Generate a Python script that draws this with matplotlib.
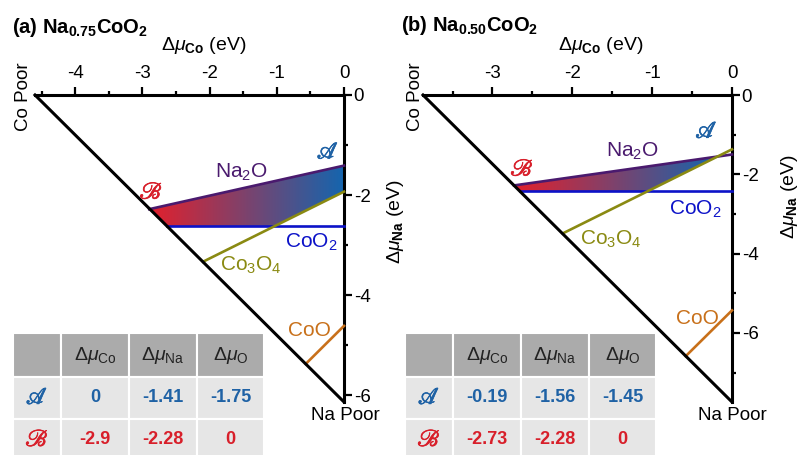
import numpy as np
import matplotlib
matplotlib.use('Agg')
import matplotlib.pyplot as plt
import matplotlib.patheffects as pe
from matplotlib.patches import Polygon, Rectangle
from matplotlib.colors import LinearSegmentedColormap
from matplotlib.ticker import MultipleLocator

plt.rcParams['font.family'] = ['Liberation Sans', 'DejaVu Sans']
plt.rcParams['mathtext.fontset'] = 'custom'
plt.rcParams['mathtext.rm'] = 'Liberation Sans'
plt.rcParams['mathtext.it'] = 'Liberation Sans:italic'
plt.rcParams['mathtext.bf'] = 'Liberation Sans:bold'
plt.rcParams['axes.unicode_minus'] = False

# ---- panel (a) Na0.75CoO2 : (mu_Co, mu_Na) values in eV
a_co_poor = -4.60
a_na_poor = -6.13
a_na2o_co, a_na2o_na = [-2.90, 0.0], [-2.28, -1.41]
a_coo2_co, a_coo2_na = [-2.635, 0.0], [-2.62, -2.62]
a_co3o4_co, a_co3o4_na = [-2.10, 0.0], [-3.33, -1.93]
a_coo_co, a_coo_na = [-0.57, 0.0], [-5.37, -4.61]
a_region_co = [-2.90, 0.0, 0.0, -1.035, -2.635]
a_region_na = [-2.28, -1.41, -1.93, -2.62, -2.62]

# ---- panel (b) Na0.50CoO2
b_co_poor = -3.87
b_na_poor = -7.74
b_na2o_co, b_na2o_na = [-2.73, 0.0], [-2.28, -1.50]
b_coo2_co, b_coo2_na = [-2.655, 0.0], [-2.43, -2.43]
b_co3o4_co, b_co3o4_na = [-2.12, 0.0], [-3.49, -1.37]
b_coo_co, b_coo_na = [-0.58, 0.0], [-6.585, -5.43]
b_region_co = [-2.73, -0.19, -1.06, -2.655]
b_region_na = [-2.28, -1.56, -2.43, -2.43]

# ---- tables
headers = [r'$\Delta\mu_{\mathrm{Co}}$', r'$\Delta\mu_{\mathrm{Na}}$', r'$\Delta\mu_{\mathrm{O}}$']
a_point_A = [0.0, -1.41, -1.75]
a_point_B = [-2.9, -2.28, 0.0]
b_point_A = [-0.19, -1.56, -1.45]
b_point_B = [-2.73, -2.28, 0.0]

c_na2o = '#4a1a6e'
c_coo2 = '#0c12c8'
c_co3o4 = '#8a8a12'
c_coo = '#c8701a'
c_A = '#1f62a5'
c_B = '#d81f2a'
grad = LinearSegmentedColormap.from_list('rb', ['#e3202c', '#1565ae'])

fig = plt.figure(figsize=(8, 4.55), dpi=100)


def px(x0, y0, w, h):
    return [x0 / 800, 1 - (y0 + h) / 455, w / 800, h / 455]


def script_kw(col, size):
    return dict(math_fontfamily='stix', fontsize=size,
                path_effects=[pe.withStroke(linewidth=0.5, foreground=col)])


def panel(ax, co_poor, na_poor, lines, reg_co, reg_na, labels):
    ax.set_xlim(co_poor, 0)
    ax.set_ylim(na_poor, 0)
    for s in ['left', 'bottom']:
        ax.spines[s].set_visible(False)
    for s in ['top', 'right']:
        ax.spines[s].set_linewidth(2.2)
    ax.patch.set_alpha(0)
    ax.xaxis.tick_top()
    ax.yaxis.tick_right()
    ax.xaxis.set_major_locator(MultipleLocator(1))
    ax.xaxis.set_minor_locator(MultipleLocator(0.5))
    ax.yaxis.set_major_locator(MultipleLocator(2))
    ax.yaxis.set_minor_locator(MultipleLocator(1))
    ax.tick_params(which='major', length=5.5, width=1.6, labelsize=13.5)
    ax.tick_params(which='minor', length=3.2, width=1.6)
    ax.tick_params(axis='x', which='major', pad=4)
    ax.tick_params(axis='y', which='major', pad=1.5)

    # shaded stability region
    poly = Polygon(np.column_stack([reg_co, reg_na]), closed=True,
                   facecolor='none', edgecolor='none')
    ax.add_patch(poly)
    im = ax.imshow(np.linspace(0, 1, 256).reshape(1, -1), cmap=grad,
                   extent=[min(reg_co), max(reg_co), min(reg_na), max(reg_na)],
                   aspect='auto', interpolation='bilinear', zorder=1)
    im.set_clip_path(poly)

    for (xs, ys, col) in lines:
        ax.plot(xs, ys, color=col, lw=1.9, zorder=3, clip_on=False)
    ax.plot([co_poor, 0], [0, na_poor], color='black', lw=2.2,
            clip_on=False, zorder=4, solid_capstyle='projecting')
    ax.set_xlim(co_poor, 0)
    ax.set_ylim(na_poor, 0)

    for (txt, x, y, col, extra) in labels:
        kw = dict(color=col, ha='center', va='center', fontsize=15, zorder=5)
        kw.update(extra)
        ax.text(x, y, txt, **kw)


axL = fig.add_axes(px(35, 95, 309, 307))
panel(axL, a_co_poor, a_na_poor,
      [(a_na2o_co, a_na2o_na, c_na2o), (a_coo2_co, a_coo2_na, c_coo2),
       (a_co3o4_co, a_co3o4_na, c_co3o4), (a_coo_co, a_coo_na, c_coo)],
      a_region_co, a_region_na,
      [(r'Na$_2$O', -1.52, -1.55, c_na2o, {}),
       (r'CoO$_2$', -0.49, -2.94, c_coo2, {}),
       (r'Co$_3$O$_4$', -1.39, -3.41, c_co3o4, {}),
       ('CoO', -0.51, -4.70, c_coo, {}),
       (r'$\mathscr{A}$', -0.24, -1.15, c_A, script_kw(c_A, 17)),
       (r'$\mathscr{B}$', -2.87, -1.95, c_B, script_kw(c_B, 17))])

axR = fig.add_axes(px(423, 95, 309, 307))
panel(axR, b_co_poor, b_na_poor,
      [(b_na2o_co, b_na2o_na, c_na2o), (b_coo2_co, b_coo2_na, c_coo2),
       (b_co3o4_co, b_co3o4_na, c_co3o4), (b_coo_co, b_coo_na, c_coo)],
      b_region_co, b_region_na,
      [(r'Na$_2$O', -1.25, -1.42, c_na2o, {}),
       (r'CoO$_2$', -0.46, -2.88, c_coo2, {}),
       (r'Co$_3$O$_4$', -1.52, -3.63, c_co3o4, {}),
       ('CoO', -0.43, -5.63, c_coo, {}),
       (r'$\mathscr{A}$', -0.32, -0.93, c_A, script_kw(c_A, 17)),
       (r'$\mathscr{B}$', -2.63, -1.88, c_B, script_kw(c_B, 17))])

# titles and axis labels
fig.text(12 / 800, 1 - 33 / 455, r'(a) Na$_{\mathbf{0.75}}$CoO$_{\mathbf{2}}$',
         fontsize=14.5, fontweight='bold', va='baseline')
fig.text(401 / 800, 1 - 31 / 455, r'(b) Na$_{\mathbf{0.50}}$CoO$_{\mathbf{2}}$',
         fontsize=14.5, fontweight='bold', va='baseline')
for cx in [204, 601]:
    fig.text(cx / 800, 1 - 50 / 455, r'$\Delta\mu_{\mathbf{Co}}$ (eV)',
             fontsize=14, ha='center', va='baseline')
fig.text(396 / 800, 1 - 222 / 455, r'$\Delta\mu_{\mathbf{Na}}$ (eV)',
         fontsize=14, ha='center', va='center', rotation=90)
fig.text(789 / 800, 1 - 197 / 455, r'$\Delta\mu_{\mathbf{Na}}$ (eV)',
         fontsize=14, ha='center', va='center', rotation=90)
for cx in [23, 415]:
    fig.text(cx / 800, 1 - 97 / 455, 'Co Poor', fontsize=13.5,
             ha='center', va='center', rotation=90)
fig.text(345 / 800, 1 - 416 / 455, 'Na Poor', fontsize=13.5, ha='center', va='center')
fig.text(732 / 800, 1 - 415 / 455, 'Na Poor', fontsize=13.5, ha='center', va='center')


def table(x0, pA, pB):
    col_w = [48, 68, 68, 67]
    row_h = [44, 42, 42]
    tab = fig.add_axes(px(x0, 333, sum(col_w), sum(row_h)))
    tab.set_xlim(0, sum(col_w))
    tab.set_ylim(sum(row_h), 0)
    tab.axis('off')
    ex = np.cumsum([0] + col_w)
    ey = np.cumsum([0] + row_h)
    rows = [(r'$\mathscr{A}$', pA, c_A), (r'$\mathscr{B}$', pB, c_B)]
    for r in range(3):
        for c in range(4):
            fc = '#ababab' if r == 0 else '#e6e6e6'
            tab.add_patch(Rectangle((ex[c], ey[r]), col_w[c], row_h[r],
                                    facecolor=fc, edgecolor='white', lw=1.5))
            cx = (ex[c] + ex[c + 1]) / 2
            cy = (ey[r] + ey[r + 1]) / 2
            if r == 0 and c > 0:
                tab.text(cx, cy, headers[c - 1], fontsize=14, color='#222222',
                         ha='center', va='center')
            elif r > 0:
                lab, vals, col = rows[r - 1]
                if c == 0:
                    tab.text(cx, cy, lab, color=col, ha='center', va='center',
                             **script_kw(col, 17))
                else:
                    tab.text(cx, cy, f'{vals[c - 1]:g}', color=col,
                             ha='center', va='center', fontsize=13,
                             fontweight='bold',
                             family=['Liberation Sans Narrow', 'Liberation Sans'])


table(13, a_point_A, a_point_B)
table(405, b_point_A, b_point_B)

fig.savefig('out.png', dpi=100)
